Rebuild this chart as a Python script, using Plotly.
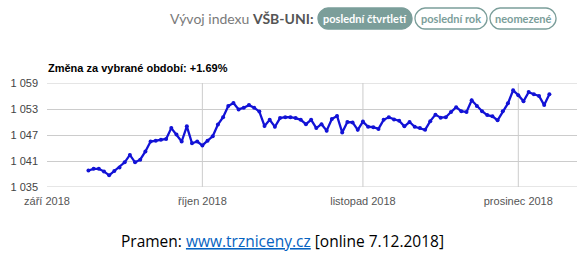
import pandas as pd
import plotly.graph_objects as go

# ---- data ----
start_date = "2018-09-09"
values = [
    1038.8, 1039.2, 1039.2, 1038.6, 1037.7, 1038.7, 1039.5, 1040.7, 1042.4, 1040.7,
    1041.3, 1043.2, 1045.5, 1045.7, 1045.9, 1046.1, 1048.6, 1047.1, 1045.5, 1049.0,
    1045.1, 1045.5, 1044.6, 1045.7, 1046.7, 1049.4, 1051.1, 1053.7, 1054.4, 1052.9,
    1053.3, 1053.9, 1053.3, 1052.4, 1049.1, 1050.5, 1048.9, 1050.9, 1051.1, 1051.1,
    1050.9, 1050.5, 1049.5, 1050.5, 1048.6, 1049.5, 1048.0, 1050.7, 1051.4, 1047.6,
    1050.0, 1049.9, 1048.2, 1050.1, 1048.9, 1048.8, 1048.4, 1050.5, 1051.1,
    1050.6, 1050.3, 1049.0, 1050.0, 1048.9, 1048.6, 1048.2, 1050.2, 1051.7, 1051.0,
    1051.1, 1052.3, 1053.4, 1052.5, 1052.3, 1055.0, 1053.7, 1052.5, 1051.6, 1051.3,
    1050.4, 1052.5, 1054.3, 1057.3, 1056.2, 1054.8, 1056.9, 1056.4, 1056.0, 1053.9,
    1056.4,
]
dates = pd.date_range(start_date, periods=len(values), freq="D")

y_ticks = [1035, 1041, 1047, 1053, 1059]
y_labels = ["1 035", "1 041", "1 047", "1 053", "1 059"]
x_ticks = ["2018-09-01", "2018-10-01", "2018-11-01", "2018-12-01"]
x_labels = ["září 2018", "říjen 2018", "listopad 2018", "prosinec 2018"]
x_range = ["2018-09-01", "2018-12-12 08:00"]

header_plain = "Vývoj indexu "
header_bold = "VŠB-UNI:"
buttons = ["poslední čtvrtletí", "poslední rok", "neomezené"]
subtitle = "Změna za vybrané období: +1.69%"
source_text = "Pramen: "
source_link = "www.trzniceny.cz"
source_tail = " [online 7.12.2018]"

# ---- layout geometry (pixels) ----
W, H = 587, 255
ML, MR, MT, MB = 47, 10, 83, 68
PW, PH = W - ML - MR, H - MT - MB


def px(x):
    return (x - ML) / PW


def py(y):
    return (H - MB - y) / PH


def pill(x0, x1, y0, y1, r):
    pts = []
    pts.append(f"M {px(x0 + r)},{py(y0)}")
    pts.append(f"L {px(x1 - r)},{py(y0)}")
    pts.append(f"C {px(x1 - r * 0.45)},{py(y0)} {px(x1)},{py(y0 + r * 0.55)} {px(x1)},{py(y0 + r)}")
    pts.append(f"L {px(x1)},{py(y1 - r)}")
    pts.append(f"C {px(x1)},{py(y1 - r * 0.45)} {px(x1 - r * 0.55)},{py(y1)} {px(x1 - r)},{py(y1)}")
    pts.append(f"L {px(x0 + r)},{py(y1)}")
    pts.append(f"C {px(x0 + r * 0.45)},{py(y1)} {px(x0)},{py(y1 - r * 0.55)} {px(x0)},{py(y1 - r)}")
    pts.append(f"L {px(x0)},{py(y0 + r)}")
    pts.append(f"C {px(x0)},{py(y0 + r * 0.45)} {px(x0 + r * 0.55)},{py(y0)} {px(x0 + r)},{py(y0)}")
    pts.append("Z")
    return " ".join(pts)


fig = go.Figure()
fig.add_trace(go.Scatter(
    x=dates, y=values, mode="lines+markers",
    line=dict(color="#1212d6", width=2.3),
    marker=dict(color="#1212d6", size=4),
    hoverinfo="skip", showlegend=False,
))

shapes = []
# vertical month gridlines (except the one at the left edge)
for t in x_ticks[1:]:
    shapes.append(dict(type="line", xref="x", yref="paper", x0=t, x1=t, y0=0, y1=1,
                       line=dict(color="#cccccc", width=1), layer="below"))
# horizontal gridlines at the range ends (plotly clips those)
for v in (y_ticks[0], y_ticks[-1]):
    shapes.append(dict(type="line", xref="paper", yref="y", x0=0, x1=1, y0=v, y1=v,
                       line=dict(color="#cccccc", width=1), layer="below"))

teal = "#7b9e9a"
pill_boxes = [(318, 412), (415, 487), (490, 556)]
for i, (a, b) in enumerate(pill_boxes):
    shapes.append(dict(type="path", xref="paper", yref="paper", path=pill(a, b, 8, 29, 10),
                       fillcolor=teal if i == 0 else "white",
                       line=dict(color=teal, width=1.3)))

annotations = []
annotations.append(dict(
    xref="paper", yref="paper", x=px(316), y=py(18), xanchor="right", yanchor="middle",
    text=f"<span style='color:#7a7a7a'>{header_plain}</span><b style='color:#555555'>{header_bold}</b>",
    showarrow=False, font=dict(family="Lato", size=14),
))
for i, ((a, b), label) in enumerate(zip(pill_boxes, buttons)):
    annotations.append(dict(
        xref="paper", yref="paper", x=px((a + b) / 2), y=py(18.5), xanchor="center", yanchor="middle",
        text=f"<b>{label}</b>", showarrow=False,
        font=dict(family="Lato", size=11, color="white" if i == 0 else teal),
    ))
annotations.append(dict(
    xref="paper", yref="paper", x=px(46), y=py(68), xanchor="left", yanchor="middle",
    text=f"<b>{subtitle}</b>", showarrow=False,
    font=dict(family="Arial, Liberation Sans", size=11, color="#000000"),
))
annotations.append(dict(
    xref="paper", yref="paper", x=px(282), y=py(241), xanchor="center", yanchor="middle",
    text=(f"{source_text}<span style='color:#0563c1;text-decoration:underline'>{source_link}</span>"
          f"{source_tail}"),
    showarrow=False, font=dict(family="Open Sans", size=15.5, color="#000000"),
))

fig.update_layout(
    width=W, height=H,
    margin=dict(l=ML, r=MR, t=MT, b=MB, pad=0),
    paper_bgcolor="white", plot_bgcolor="white",
    shapes=shapes, annotations=annotations,
    xaxis=dict(
        type="date", range=x_range, tickvals=x_ticks, ticktext=x_labels,
        showgrid=False, zeroline=False, showline=False, ticks="",
        tickfont=dict(family="Arial, Liberation Sans", size=11, color="#555555"),
        ticklabelstandoff=6,
    ),
    yaxis=dict(
        range=[1035, 1059], tickvals=y_ticks, ticktext=y_labels,
        showgrid=True, gridcolor="#cccccc", gridwidth=1, zeroline=False, showline=False,
        ticks="", tickfont=dict(family="Arial, Liberation Sans", size=11, color="#444444"),
        ticklabelstandoff=8,
    ),
)

fig.write_html("out.html")
